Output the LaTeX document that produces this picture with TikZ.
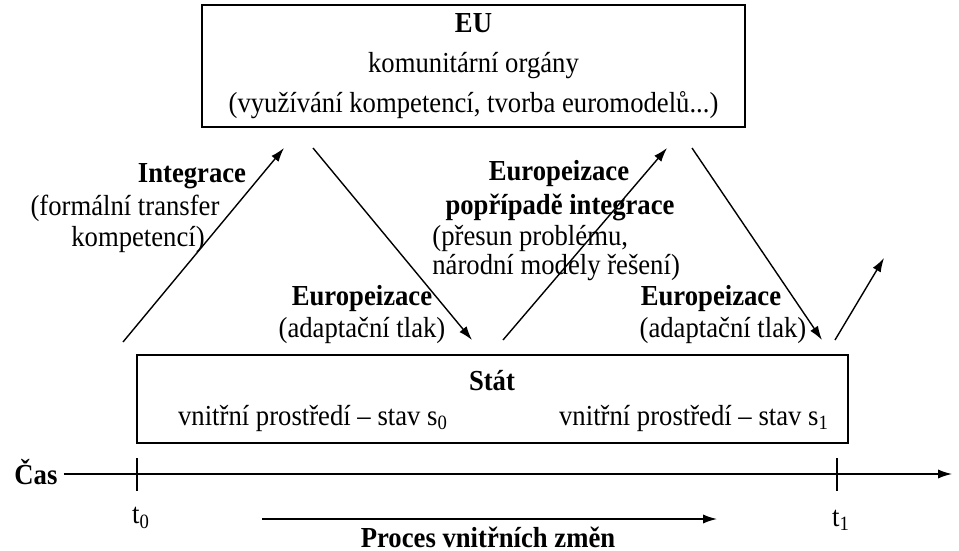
\documentclass[tikz,border=0pt]{standalone}
\usepackage{fontspec}
\setmainfont{Liberation Serif}[FakeStretch=0.92]
\usetikzlibrary{arrows.meta}
\begin{document}
\begin{tikzpicture}[x=0.5pt,y=-0.5pt,font=\fontsize{14.5}{17}\selectfont]
        \tikzstyle{block} = [rectangle, text=black, text centered, draw=black, line width=.9, inner sep=0]
        \tikzstyle{line} = [-{Latex[length=7pt,width=4.6pt]},draw=black,line width=.7]
        \tikzstyle{head} = [font=\fontsize{14.5}{17}\selectfont\bfseries, inner sep=0]
        \tikzstyle{txt} = [inner sep=0]
        \useasboundingbox (0,0) rectangle (959,551);
        % boxes
        \node[block,minimum width=271.5pt,minimum height=61pt,align=center,font=\fontsize{14.5}{20}\selectfont] (eu) at (473.5,66) {\textbf{EU}\\komunitární orgány\\(využívání kompetencí, tvorba euromodelů...)};
        \node[block,minimum width=355.5pt,minimum height=44pt] (stat) at (492.5,399) {};
        \node[head] (stattitle) at (492,381) {Stát};
        \node[txt] (s0) at (313,418) {vnitřní prostředí – stav s\textsubscript{0}};
        \node[txt] (s1) at (694,418) {vnitřní prostředí – stav s\textsubscript{1}};
        % arrow ends
        \coordinate (a0) at (123,342);
        \coordinate (a1) at (284,148);
        \coordinate (b0) at (313,148);
        \coordinate (b1) at (472,340);
        \coordinate (c0) at (503,340);
        \coordinate (c1) at (667,148);
        \coordinate (d0) at (692,148);
        \coordinate (d1) at (822,340);
        \coordinate (e0) at (835,340);
        \coordinate (e1) at (884,258);
        \draw[line] (a0) to (a1);
        \draw[line] (b0) to (b1);
        \draw[line] (c0) to (c1);
        \draw[line] (d0) to (d1);
        \draw[line] (e0) to (e1);
        % labels
        \node[head] (integ) at (192,176) {Integrace};
        \node[txt] (integ1) at (125,208) {(formální transfer};
        \node[txt] (integ2) at (138,240) {kompetencí)};
        \node[head] (euro1) at (362,299) {Europeizace};
        \node[txt] (euro1a) at (362,330) {(adaptační tlak)};
        \node[head] (euro2) at (559,174) {Europeizace};
        \node[head] (euro2a) at (560,207) {popřípadě integrace};
        \node[txt,anchor=west] (euro2b) at (432,238) {(přesun problému,};
        \node[txt,anchor=west] (euro2c) at (432,268) {národní modely řešení)};
        \node[head] (euro3) at (711,299) {Europeizace};
        \node[txt] (euro3a) at (723,330) {(adaptační tlak)};
        % time axis
        \node[head,anchor=west] (cas) at (14,472) {Čas};
        \coordinate (tend) at (952,474);
        \draw[line] (cas.east |- tend) ++(6,0) coordinate (tstart) -- (tend);
        \coordinate (t0a) at (137,458);
        \coordinate (t0b) at (137,491);
        \coordinate (t1a) at (837,458);
        \coordinate (t1b) at (837,491);
        \draw[line width=.7] (t0a) -- (t0b);
        \draw[line width=.7] (t1a) -- (t1b);
        \node[txt] (t0) at (141,518) {t\textsubscript{0}};
        \node[txt] (t1) at (841,520) {t\textsubscript{1}};
        \coordinate (p0) at (262,519);
        \coordinate (p1) at (717,519);
        \draw[line] (p0) to (p1);
        \node[head,anchor=base] (proces) at (488,547) {Proces vnitřních změn};
    \end{tikzpicture}
\end{document}
